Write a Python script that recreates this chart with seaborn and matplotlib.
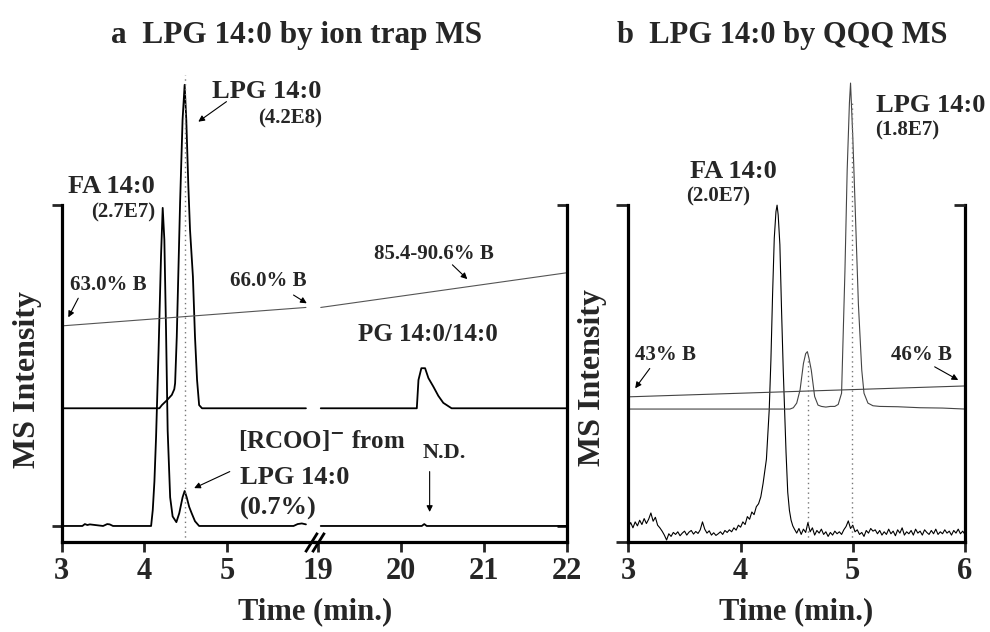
import numpy as np
import pandas as pd
import seaborn as sns
import matplotlib.pyplot as plt

# ---- panel a : ion trap MS (broken time axis 3-6 / 19-22) ----
# lower trace, [RCOO]- channel (FA 14:0 peak + in-source fragment of LPG)
a_fa_t1 = [3.00, 3.25, 3.28, 3.31, 3.34, 3.50, 3.55, 3.58, 3.62, 4.08, 4.10, 4.12, 4.14, 4.17,
           4.20, 4.22, 4.24, 4.26, 4.28, 4.31, 4.34, 4.385, 4.42, 4.46, 4.485, 4.51, 4.54, 4.57,
           4.61, 4.66, 5.80, 5.85, 5.90, 5.95]
a_fa_i1 = [0, 0, 0.6, 0.3, 0.5, 0, 0.6, 0.5, 0, 0, 5, 14, 28, 55,
           85, 100, 90, 62, 30, 9, 3, 1.2, 4, 9, 11, 9, 6, 4,
           1.5, 0, 0, 0.6, 0.8, 0.5]
a_fa_t2 = [19.03, 20.25, 20.28, 20.31, 22.00]
a_fa_i2 = [0, 0, 0.6, 0, 0]

# upper trace, LPG 14:0 channel
a_lpg_t1 = [3.00, 4.18, 4.21, 4.27, 4.33, 4.36, 4.37, 4.39, 4.43, 4.46, 4.485, 4.505, 4.53,
            4.55, 4.585, 4.61, 4.635, 4.66, 4.695, 5.95]
a_lpg_i1 = [37, 37, 38, 39.5, 41.2, 43, 44.9, 59.5, 101.6, 127.7, 138.7, 127.7, 106.7,
            93.1, 78.4, 59.5, 45.9, 38, 37, 37]
a_lpg_t2 = [19.03, 20.19, 20.21, 20.245, 20.29, 20.33, 20.39, 20.45, 20.51, 20.61, 22.00]
a_lpg_i2 = [37, 37, 45.9, 49.6, 49.6, 46.5, 43.8, 40.9, 38.7, 37, 37]

# %B gradient
a_grad_t1 = [3.00, 5.95]
a_grad_i1 = [62.9, 68.7]
a_grad_t2 = [19.03, 22.00]
a_grad_i2 = [68.7, 79.6]

a_ticks1 = [3, 4, 5]
a_ticks2 = [19, 20, 21, 22]
a_lpg_rt = 4.49

# ---- panel b : QQQ MS ----
b_fa_t = [3.00, 3.02, 3.04, 3.06, 3.08, 3.10, 3.12, 3.14, 3.16, 3.18, 3.20, 3.22, 3.24, 3.26,
          3.28, 3.30, 3.32, 3.34, 3.36, 3.38, 3.40, 3.42, 3.44, 3.46, 3.48, 3.50, 3.52, 3.54,
          3.56, 3.58, 3.60, 3.62, 3.64, 3.66, 3.68, 3.70, 3.72, 3.74, 3.76, 3.78, 3.80, 3.82,
          3.84, 3.86, 3.88, 3.90, 3.92, 3.94, 3.96, 3.98, 4.00, 4.02, 4.04, 4.06, 4.08, 4.10,
          4.12, 4.14, 4.16, 4.18, 4.20,
          4.23, 4.255, 4.27, 4.285, 4.30, 4.315, 4.325, 4.335, 4.35, 4.365, 4.38, 4.39, 4.405,
          4.42, 4.435, 4.45, 4.465, 4.48,
          4.50, 4.52, 4.54, 4.56, 4.58, 4.60, 4.62, 4.64, 4.66, 4.68, 4.70, 4.72, 4.74, 4.76,
          4.78, 4.80, 4.82, 4.84, 4.86, 4.88, 4.90, 4.92, 4.94, 4.96, 4.98, 5.00, 5.02, 5.04,
          5.06, 5.08, 5.10, 5.12, 5.14, 5.16, 5.18, 5.20, 5.22, 5.24, 5.26, 5.28, 5.30, 5.32,
          5.34, 5.36, 5.38, 5.40, 5.42, 5.44, 5.46, 5.48, 5.50, 5.52, 5.54, 5.56, 5.58, 5.60,
          5.62, 5.64, 5.66, 5.68, 5.70, 5.72, 5.74, 5.76, 5.78, 5.80, 5.82, 5.84, 5.86, 5.88,
          5.90, 5.92, 5.94, 5.96, 5.98, 6.00]
b_fa_i = [4.5, 5.8, 4.2, 6.0, 4.8, 6.5, 5.2, 7.0, 5.5, 6.8, 8.7, 6.2, 7.4, 5.0,
          4.2, 3.2, 2.0, 0.5, 2.4, 1.6, 2.8, 2.2, 3.0, 1.8, 2.6, 3.2, 2.0, 2.9,
          3.4, 2.3, 3.1, 2.5, 3.6, 6.0, 3.8, 2.6, 3.3, 2.0, 2.7, 1.9, 2.4, 3.0,
          2.2, 3.4, 2.8, 3.6, 3.0, 4.2, 3.5, 5.0, 4.4, 6.0, 5.2, 7.6, 6.8, 9.0,
          8.2, 10.6, 11.5, 13.6, 17.6,
          25, 40, 55, 75, 92, 100, 102, 99, 90, 70, 52, 42, 27,
          15, 9.5, 6.5, 4.8, 3.8,
          2.6, 4.0, 2.2, 3.8, 2.8, 5.8, 3.0, 4.2, 2.0, 3.4, 2.6, 3.8, 2.2, 3.0,
          1.6, 2.8, 2.0, 3.2, 2.4, 3.0, 2.2, 3.6, 4.6, 6.3, 4.0, 5.0, 3.0, 3.6,
          2.2, 2.8, 1.6, 3.4, 2.6, 4.0, 3.2, 3.6, 2.4, 3.4, 2.0, 3.0, 2.2, 3.8,
          2.4, 3.2, 1.8, 3.6, 2.6, 4.2, 2.0, 3.0, 2.4, 3.4, 2.0, 3.8, 2.6, 3.2,
          2.0, 3.6, 2.8, 2.2, 3.4, 2.4, 3.8, 2.2, 3.0, 2.4, 3.6, 2.6, 3.2, 2.0,
          3.4, 2.6, 3.8, 2.4, 3.2, 2.2]

b_lpg_t = [3.00, 4.44, 4.47, 4.50, 4.53, 4.56, 4.58, 4.595, 4.61, 4.63, 4.66, 4.69, 4.72, 4.76,
           4.80, 4.84, 4.87, 4.90, 4.93, 4.95, 4.97, 4.98, 5.00, 5.02, 5.05, 5.08, 5.10, 5.135,
           5.18, 5.24, 5.40, 5.60, 5.80, 6.00]
b_lpg_i = [40.2, 40.2, 40.6, 42.0, 46.0, 54.0, 57.0, 57.6, 55.5, 52.0, 44.0, 41.4, 41.0, 40.8,
           41.0, 41.0, 41.6, 45.0, 82.0, 112.6, 133.0, 139.0, 122.7, 102.6, 72.0, 52.0, 45.0, 42.0,
           41.2, 41.0, 40.9, 40.6, 40.5, 40.2]

b_grad_t = [3.0, 6.0]
b_grad_i = [43.9, 47.2]
b_ticks = [3, 4, 5, 6]
b_marks_rt = [4.60, 4.99]
b_marks_top = [56, 134]

sns.set_theme(style="ticks")
plt.rcParams['font.family'] = ['Liberation Serif', 'DejaVu Serif']
plt.rcParams['font.weight'] = 'bold'

fig = plt.figure(figsize=(9.9, 6.32), dpi=100)
axL = fig.add_axes([0.0623, 0.1429, 0.2561, 0.7622])
axR = fig.add_axes([0.3184, 0.1429, 0.2540, 0.7622], sharey=axL)
axB = fig.add_axes([0.6348, 0.1429, 0.3399, 0.7622])
for ax in (axL, axR, axB):
    ax.patch.set_visible(False)

def trace(ax, t, i, color='black', lw=1.3):
    sns.lineplot(x=t, y=i, ax=ax, color=color, linewidth=lw, estimator=None, sort=False)

# panel a
trace(axL, a_fa_t1, a_fa_i1)
trace(axR, a_fa_t2, a_fa_i2)
trace(axL, a_lpg_t1, a_lpg_i1)
trace(axR, a_lpg_t2, a_lpg_i2)
trace(axL, a_grad_t1, a_grad_i1, color='#555555', lw=0.8)
trace(axR, a_grad_t2, a_grad_i2, color='#555555', lw=0.8)
axL.vlines(a_lpg_rt, -4.94, 141.8, colors='#777777', linestyles=(0, (1, 2.5)), linewidth=1)

axL.set_xlim(3, 6.062)
axR.set_xlim(18.963, 22)
axL.set_ylim(-4.94, 146.5)
axL.set_xticks(a_ticks1)
axR.set_xticks(a_ticks2)

# panel b
trace(axB, b_fa_t, b_fa_i, lw=0.8)
trace(axB, b_lpg_t, b_lpg_i, color='#444444', lw=0.8)
trace(axB, b_grad_t, b_grad_i, color='#444444', lw=0.8)
axB.vlines(b_marks_rt, 0, b_marks_top, colors='#777777', linestyles=(0, (1, 2.5)), linewidth=1)
axB.set_xlim(3, 6)
axB.set_ylim(0, 146)
axB.set_xticks(b_ticks)

# frame styling
for ax in (axL, axR, axB):
    ax.set_xlabel('')
    ax.set_ylabel('')
    ax.spines['top'].set_visible(False)
    for s in ax.spines.values():
        s.set_linewidth(2.3)
        s.set_color('black')
    ax.tick_params(axis='x', direction='out', length=7, width=2, labelsize=22, pad=4)
    ax.tick_params(axis='y', labelleft=False, labelright=False)
    for lab in ax.get_xticklabels():
        lab.set_fontweight('bold')

axL.spines['right'].set_visible(False)
axR.spines['left'].set_visible(False)
axL.spines['left'].set_bounds(-4.94, 100.9)
axL.set_yticks([0, 100.9])
axL.tick_params(axis='y', direction='out', length=7, width=2, left=True, right=False)
axR.spines['right'].set_bounds(-4.94, 100.9)
axR.tick_params(axis='y', direction='in', length=7, width=2, left=False, right=True)
axB.spines['left'].set_bounds(0, 102)
axB.spines['right'].set_bounds(0, 102)
axB.set_yticks([0, 102])
axB.tick_params(axis='y', direction='out', length=9, width=2, left=True, right=False)
twin = axB.twinx()
twin.patch.set_visible(False)
twin.set_ylim(axB.get_ylim())
twin.set_yticks([102])
twin.tick_params(axis='y', direction='in', length=8, width=2, labelright=False)
for s in twin.spines.values():
    s.set_visible(False)

# axis break marks
brk = dict(marker=[(-1, -1.6), (1, 1.6)], markersize=14, linestyle='none',
           color='black', mew=2, clip_on=False)
axL.plot([0.985], [0], transform=axL.transAxes, **brk)
axR.plot([0.012], [0], transform=axR.transAxes, **brk)

arrow = dict(arrowstyle='-|>', color='black', lw=0.8, mutation_scale=9, shrinkA=0, shrinkB=0)
big = dict(fontsize=19, fontweight='bold')
mid = dict(fontsize=15, fontweight='bold')

axL.text(4.13, 104.7, 'FA 14:0', ha='right', **big)
axL.text(4.13, 96.9, '(2.7E7)', ha='right', **mid)
axL.text(4.82, 134.5, 'LPG 14:0', ha='left', **big)
axL.text(6.14, 126.4, '(4.2E8)', ha='right', **mid)
axL.annotate('', xy=(4.65, 127.1), xytext=(4.99, 133.4), arrowprops=arrow)
axL.text(3.10, 74.2, '63.0% B', ha='left', **mid)
axL.annotate('', xy=(3.08, 65.6), xytext=(3.20, 71.6), arrowprops=arrow)
axL.text(5.03, 75.3, '66.0% B', ha='left', **mid)
axL.annotate('', xy=(5.96, 70.0), xytext=(5.80, 72.6), arrowprops=arrow)
axL.text(5.13, 24.5, '[RCOO]$^{-}$ from', ha='left', fontsize=18, fontweight='bold')
axL.text(5.15, 13.2, 'LPG 14:0', ha='left', **big)
axL.text(5.15, 3.5, '(0.7%)', ha='left', **big)
axL.annotate('', xy=(4.60, 11.9), xytext=(5.03, 17.1), arrowprops=arrow)

axR.text(19.67, 83.9, '85.4-90.6% B', ha='left', **mid)
axR.annotate('', xy=(20.80, 77.6), xytext=(20.62, 82.1), arrowprops=arrow)
axR.text(20.32, 58.0, 'PG 14:0/14:0', ha='center', fontsize=18, fontweight='bold')
axR.text(20.52, 21.4, 'N.D.', ha='center', fontsize=16, fontweight='bold')
axR.annotate('', xy=(20.345, 4.4), xytext=(20.345, 17.1), arrowprops=arrow)

axB.text(3.55, 110.1, 'FA 14:0', ha='left', **big)
axB.text(3.51, 103.0, '(2.0E7)', ha='left', **mid)
axB.text(5.21, 130.3, 'LPG 14:0', ha='left', **big)
axB.text(5.195, 123.2, '(1.8E7)', ha='left', **mid)
axB.text(3.06, 55.1, '43% B', ha='left', **mid)
axB.annotate('', xy=(3.06, 46.5), xytext=(3.19, 52.5), arrowprops=arrow)
axB.text(5.34, 55.1, '46% B', ha='left', **mid)
axB.annotate('', xy=(5.94, 49.0), xytext=(5.73, 53.0), arrowprops=arrow)

# titles and axis labels
fig.text(0.2997, 0.932, 'a  LPG 14:0 by ion trap MS', ha='center', va='baseline',
         fontsize=22.5, fontweight='bold')
fig.text(0.790, 0.932, 'b  LPG 14:0 by QQQ MS', ha='center', va='baseline',
         fontsize=22, fontweight='bold')
fig.text(0.0278, 0.399, 'MS Intensity', rotation=90, ha='center', va='center',
         fontsize=23, fontweight='bold')
fig.text(0.598, 0.402, 'MS Intensity', rotation=90, ha='center', va='center',
         fontsize=23, fontweight='bold')
fig.text(0.318, 0.032, 'Time (min.)', ha='center', va='center', fontsize=22, fontweight='bold')
fig.text(0.804, 0.032, 'Time (min.)', ha='center', va='center', fontsize=22, fontweight='bold')

fig.savefig('out.png', dpi=100)
